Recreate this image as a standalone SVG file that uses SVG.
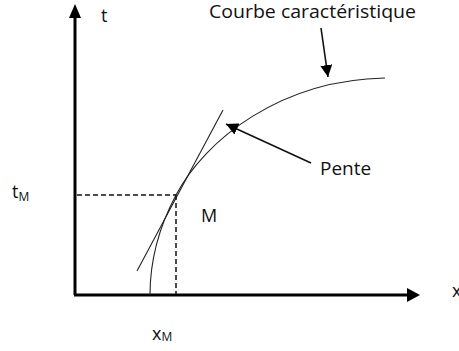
<svg xmlns="http://www.w3.org/2000/svg" width="459" height="351" viewBox="0 0 459 351">
<style>
text{font-family:"Open Sans","Liberation Sans",sans-serif;fill:#111}
.axis{stroke:#000;stroke-width:3;fill:none}
.thin{stroke:#222;stroke-width:1.1;fill:none}
.dash{stroke:#111;stroke-width:1.5;stroke-dasharray:5,3;fill:none}
.ptr{stroke:#111;stroke-width:1.6;fill:none}
</style>
<defs>
<marker id="ah" viewBox="0 0 10 10" refX="10" refY="5" markerWidth="7.5" markerHeight="7.5" markerUnits="strokeWidth" orient="auto">
<path d="M0,0 L10,5 L0,10 z" fill="#000"/>
</marker>
</defs>
<rect width="459" height="351" fill="#fff"/>
<g id="axes">
<line class="axis" x1="75" y1="295" x2="75" y2="17"/>
<path d="M75,4 L81,18 L69,18 z" fill="#000"/>
<line class="axis" x1="74" y1="295" x2="408" y2="295"/>
<path d="M420,295 L407,288 L407,302 z" fill="#000"/>
</g>
<g id="curve">
<path class="thin" d="M150,295 C150,260 160,225 176,195 C205,140 280,80 385,78"/>
</g>
<g id="tangent">
<line class="thin" x1="137" y1="271" x2="223" y2="110"/>
</g>
<g id="connectors">
<line class="dash" x1="77" y1="195" x2="176" y2="195"/>
<line class="dash" x1="176" y1="195" x2="176" y2="294"/>
<line class="ptr" x1="321" y1="28" x2="328" y2="77" marker-end="url(#ah)"/>
<line class="ptr" x1="311" y1="163" x2="226" y2="124" marker-end="url(#ah)"/>
</g>
<g id="labels">
<text x="101" y="22" font-size="18">t</text>
<text x="209" y="18" font-size="18" textLength="207" lengthAdjust="spacingAndGlyphs">Courbe caractéristique</text>
<text x="320" y="175" font-size="19">Pente</text>
<text x="201" y="222" font-size="18">M</text>
<text x="12" y="198" font-size="18">t<tspan font-size="12" dy="3">M</tspan></text>
<text x="152" y="340" font-size="18">x<tspan font-size="12" dy="1">M</tspan></text>
<text x="452" y="297" font-size="18">x</text>
</g>
</svg>
